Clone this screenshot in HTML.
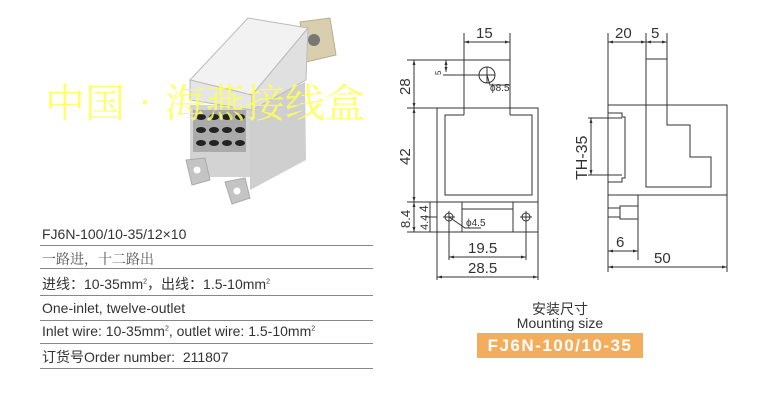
<!DOCTYPE html>
<html><head><meta charset="utf-8"><style>
html,body{margin:0;padding:0;background:#fff;}
body{width:769px;height:402px;overflow:hidden;position:relative;font-family:"Liberation Sans","Noto Sans CJK SC",sans-serif;}
.t{position:absolute;left:42px;font-size:14px;color:#333;white-space:nowrap;}
.l{position:absolute;left:40px;width:333px;height:1px;background:#888;}
sup{font-size:7px;}
</style></head><body>
<svg width="769" height="402" style="position:absolute;left:0;top:0" xmlns="http://www.w3.org/2000/svg">
<defs><marker id="a" viewBox="0 0 10 10" refX="10" refY="5" markerWidth="5" markerHeight="5" orient="auto-start-reverse"><path d="M0,2 L10,5 L0,8 z" fill="#333"/></marker></defs>
<!-- product photo approximation -->
<polygon points="300,22 330,18 336,55 306,62" fill="#d9cfae" stroke="#b8ad8c"/>
<circle cx="314" cy="40" r="6" fill="#777"/>
<polygon points="250,108 305,82 306,160 250,190" fill="#cfcfcf"/>
<rect x="190" y="105" width="60" height="72" fill="#d3d3d3"/>
<rect x="193" y="110" width="53" height="42" fill="#aaa"/>
<g fill="#222">
<ellipse cx="201" cy="117" rx="5" ry="3"/><ellipse cx="214" cy="117" rx="5" ry="3"/><ellipse cx="227" cy="117" rx="5" ry="3"/><ellipse cx="240" cy="117" rx="5" ry="3"/>
<ellipse cx="201" cy="130" rx="5" ry="3"/><ellipse cx="214" cy="130" rx="5" ry="3"/><ellipse cx="227" cy="130" rx="5" ry="3"/><ellipse cx="240" cy="130" rx="5" ry="3"/>
<ellipse cx="201" cy="143" rx="5" ry="3"/><ellipse cx="214" cy="143" rx="5" ry="3"/><ellipse cx="227" cy="143" rx="5" ry="3"/><ellipse cx="240" cy="143" rx="5" ry="3"/>
</g>
<polygon points="186,160 205,158 210,180 192,185" fill="#c4c4c4" stroke="#aaa"/>
<circle cx="197" cy="170" r="3.5" fill="#fff"/>
<polygon points="225,182 245,178 250,198 232,204" fill="#c4c4c4" stroke="#aaa"/>
<circle cx="237" cy="191" r="3.5" fill="#fff"/>
<polygon points="190,80 248,18 308,28 252,95" fill="#f2f2f2" stroke="#bbb"/>
<polygon points="190,80 252,95 252,110 190,100" fill="#e6e6e6" stroke="#bbb"/>
<polygon points="252,95 308,28 306,80 252,110" fill="#e0e0e0" stroke="#bbb"/>
<text x="45" y="117" font-size="40" fill="#ffff55" fill-opacity="0.85" font-family="Noto Serif CJK SC, serif">中国•海燕接线盒</text>

<!-- drawing -->
<g stroke="#333" stroke-width="1" fill="none">
<rect x="437" y="108" width="101" height="94"/>
<polyline points="464,115 445,115 445,195 532,195 532,115 510,115"/>
<line x1="464" y1="33" x2="464" y2="115"/><line x1="510" y1="33" x2="510" y2="115"/>
<line x1="407" y1="60" x2="510" y2="60"/>
<line x1="407" y1="108" x2="437" y2="108"/>
<rect x="437" y="202" width="101" height="30"/>
<polyline points="462,202 462,232"/><polyline points="513,202 513,232"/>
<line x1="462" y1="209" x2="513" y2="209"/>
<circle cx="449" cy="217" r="4"/><circle cx="526" cy="217" r="4"/>
<line x1="443" y1="217" x2="455" y2="217"/><line x1="520" y1="217" x2="532" y2="217"/>
<line x1="449" y1="211" x2="449" y2="260"/><line x1="526" y1="211" x2="526" y2="260"/>
<line x1="437" y1="232" x2="437" y2="280"/><line x1="538" y1="232" x2="538" y2="280"/>
<circle cx="487" cy="75" r="8"/>
<line x1="443" y1="75" x2="495" y2="75"/><line x1="487" y1="67" x2="487" y2="83"/>
<polyline points="487,75 490,85 510,85"/>
<polyline points="449,217 465,228 481,228"/>
<line x1="414" y1="60" x2="414" y2="108" marker-start="url(#a)" marker-end="url(#a)"/>
<line x1="414" y1="108" x2="414" y2="202" marker-start="url(#a)" marker-end="url(#a)"/>
<line x1="414" y1="202" x2="414" y2="232" marker-start="url(#a)" marker-end="url(#a)"/>
<line x1="407" y1="202" x2="437" y2="202"/><line x1="407" y1="232" x2="437" y2="232"/>
<line x1="430" y1="202" x2="430" y2="232"/><line x1="425" y1="217" x2="437" y2="217"/>
<line x1="446" y1="60" x2="446" y2="72" marker-start="url(#a)" marker-end="url(#a)"/>
<line x1="464" y1="42" x2="510" y2="42" marker-start="url(#a)" marker-end="url(#a)"/>
<line x1="449" y1="257" x2="526" y2="257" marker-start="url(#a)" marker-end="url(#a)"/>
<line x1="437" y1="277" x2="538" y2="277" marker-start="url(#a)" marker-end="url(#a)"/>
<rect x="608" y="105" width="119" height="90"/>
<polyline points="646,59 667,59 667,125 690,125 690,157 711,157 711,187 646,187 646,59"/>
<polyline points="608,113 622,113 622,117 625,117 625,178 622,178 622,182 608,182"/>
<line x1="591" y1="118" x2="591" y2="175" marker-start="url(#a)" marker-end="url(#a)"/>
<line x1="588" y1="118" x2="622" y2="118"/><line x1="588" y1="175" x2="622" y2="175"/>
<line x1="608" y1="33" x2="608" y2="105"/><line x1="646" y1="33" x2="646" y2="59"/><line x1="667" y1="33" x2="667" y2="59"/>
<line x1="608" y1="42" x2="646" y2="42" marker-start="url(#a)" marker-end="url(#a)"/>
<line x1="646" y1="42" x2="667" y2="42" marker-start="url(#a)" marker-end="url(#a)"/>
<line x1="608" y1="195" x2="608" y2="272"/><line x1="638" y1="195" x2="638" y2="260"/><line x1="727" y1="195" x2="727" y2="272"/>
<rect x="608" y="208" width="12" height="9"/><rect x="620" y="206" width="18" height="13"/>
<line x1="608" y1="251" x2="638" y2="251" marker-start="url(#a)" marker-end="url(#a)"/>
<line x1="608" y1="267" x2="727" y2="267" marker-start="url(#a)" marker-end="url(#a)"/>
</g>
<g font-family="Liberation Sans, sans-serif" fill="#333" font-size="15">
<text x="476" y="38">15</text>
<text x="615" y="38">20</text><text x="651" y="38">5</text>
<text x="468" y="253">19.5</text>
<text x="468" y="273">28.5</text>
<text x="616" y="247">6</text>
<text x="654" y="263">50</text>
<text transform="translate(410,95) rotate(-90)">28</text>
<text transform="translate(410,165) rotate(-90)">42</text>
<text transform="translate(410,228) rotate(-90)" font-size="13">8.4</text>
<text transform="translate(428,212) rotate(-90)" font-size="12">4</text>
<text transform="translate(428,230) rotate(-90)" font-size="11">4.4</text>
<text transform="translate(587,180) rotate(-90)" font-size="16">TH-35</text>
<text transform="translate(441,75) rotate(-90)" font-size="8">5</text>
<text x="490" y="91" font-size="10">ϕ8.5</text>
<text x="466" y="226" font-size="10">ϕ4.5</text>
</g>
</svg>
<div class="t" style="top:226px">FJ6N-100/10-35/12×10</div>
<div class="l" style="top:245px"></div>
<div class="t" style="top:249px;color:#555;font-family:'Liberation Serif','Noto Serif CJK SC',serif">一路进，十二路出</div>
<div class="l" style="top:268px"></div>
<div class="t" style="top:274px">进线：10-35mm<sup>2</sup>，出线：1.5-10mm<sup>2</sup></div>
<div class="l" style="top:295px"></div>
<div class="t" style="top:300px">One-inlet, twelve-outlet</div>
<div class="l" style="top:320px"></div>
<div class="t" style="top:323px">Inlet wire: 10-35mm<sup>2</sup>, outlet wire: 1.5-10mm<sup>2</sup></div>
<div class="l" style="top:343px"></div>
<div class="t" style="top:347px">订货号Order number:&nbsp; 211807</div>
<div class="l" style="top:368px"></div>
<div style="position:absolute;left:505px;top:299px;width:110px;text-align:center;font-size:14px;color:#333">安装尺寸</div>
<div style="position:absolute;left:495px;top:315px;width:130px;text-align:center;font-size:14px;color:#333">Mounting size</div>
<div style="position:absolute;left:477px;top:333px;width:166px;height:25px;background:#f4ad5c;color:#fff;font-weight:bold;font-size:17px;letter-spacing:1.5px;text-align:center;line-height:25px">FJ6N-100/10-35</div>
</body></html>
